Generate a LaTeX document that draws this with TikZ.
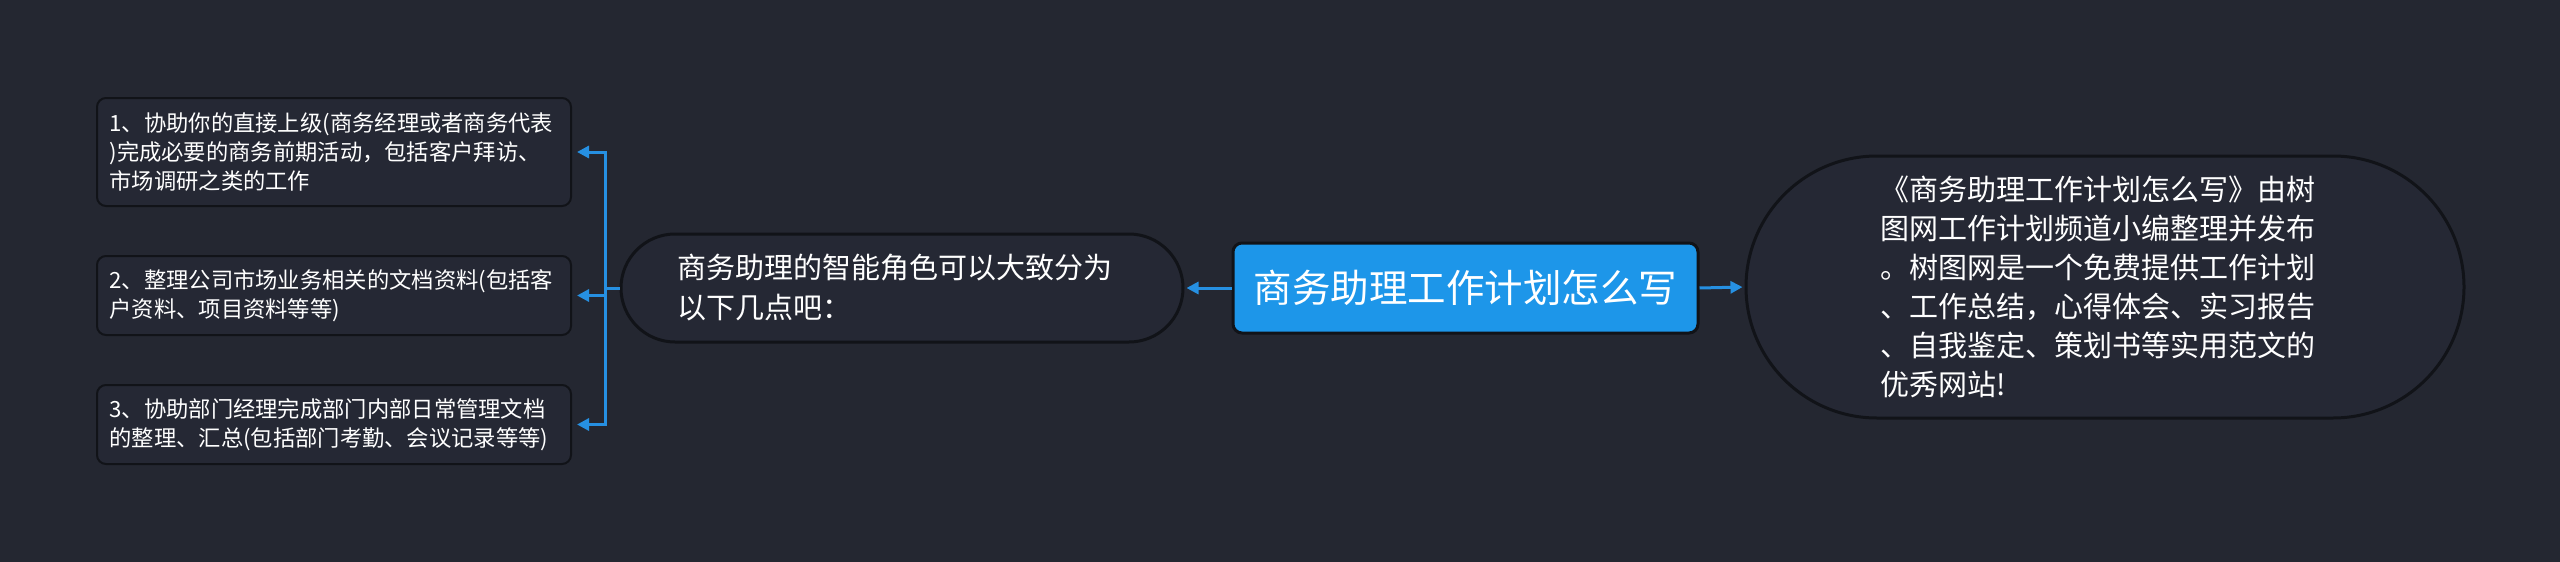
\documentclass[tikz,border=0pt]{standalone}
\usepackage{fontspec}
\setmainfont{Noto Sans CJK SC}
\usetikzlibrary{arrows.meta}
\definecolor{bg}{HTML}{242731}
\definecolor{boxfill}{HTML}{252834}
\definecolor{edge}{HTML}{111318}
\definecolor{link}{HTML}{2690E2}
\definecolor{rootblue}{HTML}{1D96E9}
\tikzset{
  leafbox/.style={draw=edge, line width=2pt, fill=boxfill, rounded corners=9pt,
    minimum width=474pt, text width=449pt, align=left, text=white, inner sep=0pt,
    font=\fontsize{22.3}{29.2}\selectfont},
  pillbox/.style={draw=edge, line width=3pt, fill=boxfill, text width=450pt, align=left,
    text=white, inner sep=0pt},
  rootbox/.style={draw=edge, line width=3pt, fill=rootblue, rounded corners=9pt, text=white,
    minimum width=465pt, minimum height=90pt, inner sep=0pt,
    font=\fontsize{38.5}{44}\selectfont},
  link/.style={draw=link, line width=3pt},
  linkarrow/.style={link, -{Triangle[length=12pt,width=12pt]}}
}
\begin{document}
\begin{tikzpicture}[x=1pt,y=-1pt]
\fill[bg] (0,0) rectangle (2560,562);
\useasboundingbox (0,0) rectangle (2560,562);

\node[rootbox] (root) at (1465.5,288) {商务助理工作计划怎么写};

\node[pillbox, rounded corners=54pt, minimum width=562pt, minimum height=108pt,
  font=\fontsize{29}{40}\selectfont] (parent) at (902,288)
  {商务助理的智能角色可以大致分为\\以下几点吧：};

\node[pillbox, rounded corners=131pt, minimum width=718pt, minimum height=262pt,
  font=\fontsize{29}{39}\selectfont] (desc) at (2105,287)
  {《商务助理工作计划怎么写》由树\\图网工作计划频道小编整理并发布\\。树图网是一个免费提供工作计划\\、工作总结，心得体会、实习报告\\、自我鉴定、策划书等实用范文的\\优秀网站!};

\node[leafbox, minimum height=108pt] (b1) at (334,152)
  {1、协助你的直接上级(商务经理或者商务代表\\)完成必要的商务前期活动，包括客户拜访、\\市场调研之类的工作};
\node[leafbox, minimum height=79pt] (b2) at (334,295.5)
  {2、整理公司市场业务相关的文档资料(包括客\\户资料、项目资料等等)};
\node[leafbox, minimum height=79pt] (b3) at (334,424.5)
  {3、协助部门经理完成部门内部日常管理文档\\的整理、汇总(包括部门考勤、会议记录等等)};

\coordinate (j) at (605,288);

\draw[linkarrow, shorten >=2pt] (root.west) -- (parent.east);
\draw[linkarrow, shorten >=2pt] (root.east) -- (desc.west);
\draw[link] (parent.west) -- (j);
\draw[linkarrow, shorten >=5pt] (j) |- (b1.east);
\draw[linkarrow, shorten >=5pt] (j) |- (b2.east);
\draw[linkarrow, shorten >=5pt] (j) |- (b3.east);
\end{tikzpicture}
\end{document}
